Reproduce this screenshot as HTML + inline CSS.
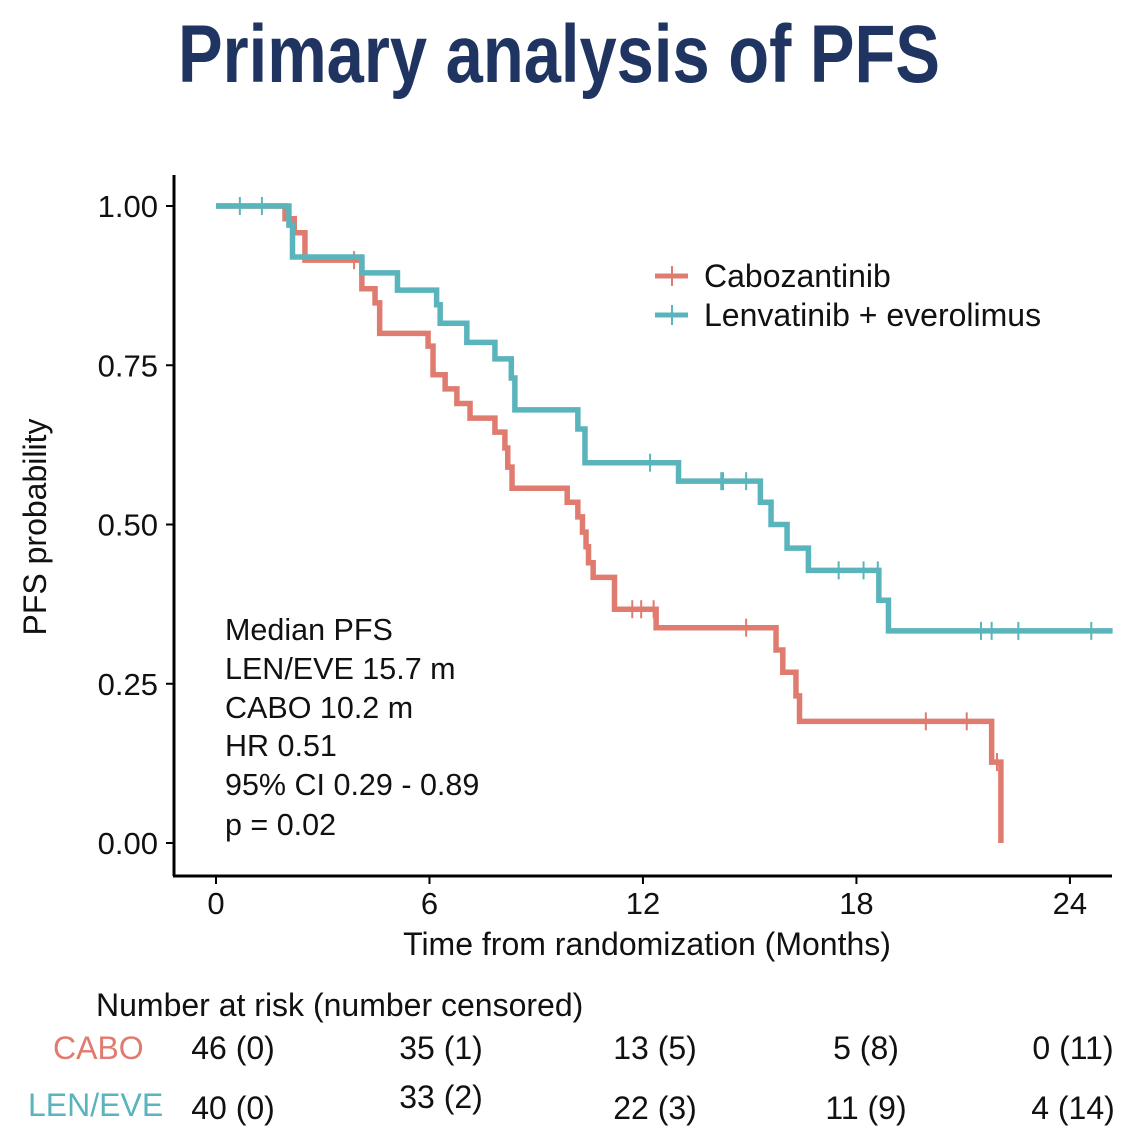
<!DOCTYPE html>
<html><head><meta charset="utf-8"><style>
html,body{margin:0;padding:0;background:#fff}
svg{display:block;font-family:"Liberation Sans",sans-serif}
</style></head><body>
<svg id="chart" width="1140" height="1132" viewBox="0 0 1140 1132">
<text x="178" y="82" font-size="82" font-weight="bold" fill="#1f3461" textLength="762" lengthAdjust="spacingAndGlyphs">Primary analysis of PFS</text>
<g id="axes"></g>
<g id="curves"></g>
<g>
<line x1="655" y1="276" x2="688" y2="276" stroke="#e07b6f" stroke-width="5"/>
<line x1="672" y1="266" x2="672" y2="286" stroke="#e07b6f" stroke-width="2"/>
<text x="704" y="287" font-size="32" fill="#111">Cabozantinib</text>
<line x1="655" y1="315" x2="688" y2="315" stroke="#5ab4bc" stroke-width="5"/>
<line x1="672" y1="305" x2="672" y2="325" stroke="#5ab4bc" stroke-width="2"/>
<text x="704" y="326" font-size="32" fill="#111">Lenvatinib + everolimus</text>
</g>
<g font-size="30.5" fill="#111">
<text x="225" y="640">Median PFS</text>
<text x="225" y="679">LEN/EVE 15.7 m</text>
<text x="225" y="718">CABO 10.2 m</text>
<text x="225" y="756">HR 0.51</text>
<text x="225" y="795">95% CI 0.29 - 0.89</text>
<text x="225" y="835">p = 0.02</text>
</g>
<text x="647" y="955" font-size="32" text-anchor="middle" fill="#111">Time from randomization (Months)</text>
<text transform="translate(46,527) rotate(-90)" font-size="32" text-anchor="middle" fill="#111">PFS probability</text>
<g id="risk" font-size="32" fill="#111">
<text x="96" y="1016">Number at risk (number censored)</text>
<text x="53" y="1059" fill="#e07b6f">CABO</text>
<text x="28" y="1116" fill="#5ab4bc">LEN/EVE</text>
</g>
</svg>
<script>
const xTicks=[0,6,12,18,24];
const yTicks=[0,0.25,0.5,0.75,1];
const yTickLabels=["0.00","0.25","0.50","0.75","1.00"];
const caboTimes=[0,1.94,2.2,2.5,4.1,4.47,4.6,5.96,6.1,6.44,6.77,7.14,7.84,8.12,8.2,8.32,9.87,10.17,10.3,10.4,10.47,10.6,11.2,12.37,15.74,15.93,16.3,16.4,21.8,22.06];
const caboSurv=[1,0.98,0.958,0.915,0.87,0.848,0.80,0.78,0.735,0.713,0.69,0.667,0.645,0.62,0.59,0.557,0.535,0.512,0.488,0.465,0.44,0.417,0.367,0.338,0.303,0.268,0.231,0.191,0.127,0];
const caboCensor=[3.88,11.7,11.95,12.3,14.9,19.95,21.1,21.95];
const lenTimes=[0,2.05,2.15,4.1,5.1,6.2,6.3,7.05,7.84,8.3,8.4,10.17,10.37,13.0,15.3,15.6,16.05,16.65,18.63,18.9];
const lenSurv=[1,0.97,0.92,0.895,0.868,0.845,0.816,0.786,0.76,0.73,0.68,0.65,0.597,0.568,0.535,0.50,0.463,0.428,0.381,0.333];
const lenEnd=25.2;
const lenCensor=[0.67,1.29,12.2,14.2,14.25,14.9,17.5,18.2,18.6,21.5,21.8,22.55,24.6];
const riskCabo=["46 (0)","35 (1)","13 (5)","5 (8)","0 (11)"];
const riskLen=["40 (0)","33 (2)","22 (3)","11 (9)","4 (14)"];
const riskCols=[233,441,655,866,1073];
const X=t=>216+t*35.58, Y=s=>843-s*637;
const NS="http://www.w3.org/2000/svg";
function mk(tag,attrs,parent){const e=document.createElementNS(NS,tag);for(const k in attrs)e.setAttribute(k,attrs[k]);parent.appendChild(e);return e;}
const axes=document.getElementById('axes');
let a=mk('line',{x1:174,y1:175,x2:174,y2:876,stroke:'#000','stroke-width':3},axes);


a=mk('line',{x1:173,y1:876,x2:1112,y2:876,stroke:'#000','stroke-width':3},axes);


yTicks.forEach((v,i)=>{
 const tk=mk('line',{x1:166,x2:174,y1:Y(v),y2:Y(v),stroke:'#000','stroke-width':2},axes);
 
 
 const t=mk('text',{x:158,y:Y(v)+11,'font-size':31,'text-anchor':'end',fill:'#111'},axes);
 t.textContent=yTickLabels[i];
 
 
});
xTicks.forEach(v=>{
 const tk=mk('line',{x1:X(v),x2:X(v),y1:876,y2:884,stroke:'#000','stroke-width':2},axes);
 
 
 const t=mk('text',{x:X(v),y:914,'font-size':31,'text-anchor':'middle',fill:'#111'},axes);
 t.textContent=v;
 
 
});
function stepPath(times,surv,end){
 let d=`M${X(times[0])},${Y(surv[0])}`;
 for(let i=1;i<times.length;i++){d+=` H${X(times[i])} V${Y(surv[i])}`;}
 if(end!==undefined)d+=` H${X(end)}`;
 return d;
}
function survAt(times,surv,t){let s=surv[0];for(let i=0;i<times.length;i++){if(times[i]<=t)s=surv[i];}return s;}
const curves=document.getElementById('curves');
function drawCurve(times,surv,end,cens,color,name){
 const p=mk('path',{d:stepPath(times,surv,end),fill:'none',stroke:color,'stroke-width':5.5,'stroke-linejoin':'miter'},curves);
 
 
 cens.forEach(c=>{
  const s=survAt(times,surv,c);
  const m=mk('line',{x1:X(c),x2:X(c),y1:Y(s)-9,y2:Y(s)+9,stroke:color,'stroke-width':2},curves);
  
  
 });
}
drawCurve(caboTimes,caboSurv,undefined,caboCensor,'#e07b6f','cabo');
drawCurve(lenTimes,lenSurv,lenEnd,lenCensor,'#5ab4bc','len');
const risk=document.getElementById('risk');
riskCabo.forEach((v,i)=>{
 const t=mk('text',{x:riskCols[i],y:1059,'text-anchor':'middle'},risk);
 t.textContent=v;
 
 
});
riskLen.forEach((v,i)=>{
 const t=mk('text',{x:riskCols[i],y:i===1?1108:1119,'text-anchor':'middle'},risk);
 t.textContent=v;
 
 
});
</script>
</body></html>
